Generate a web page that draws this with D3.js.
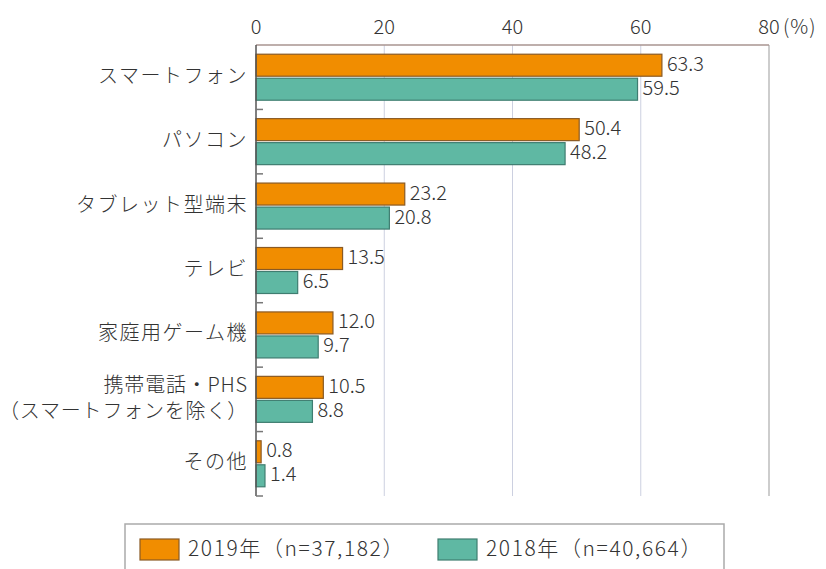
<!DOCTYPE html>
<meta charset="utf-8">
<script src="https://cdn.jsdelivr.net/npm/d3@7"></script>
<style>
body { margin: 0; background: #fff; }
text {
  font-family: "Noto Sans CJK JP", "Noto Sans", sans-serif;
  font-weight: 300;
  fill: #333;
}
</style>
<body>
<script>

// data
var categories = ["スマートフォン", "パソコン", "タブレット型端末", "テレビ", "家庭用ゲーム機", "携帯電話・PHS\n（スマートフォンを除く）", "その他"];
var values2019 = [63.3, 50.4, 23.2, 13.5, 12.0, 10.5, 0.8];
var values2018 = [59.5, 48.2, 20.8, 6.5, 9.7, 8.8, 1.4];
var seriesNames = ["2019年（n=37,182）", "2018年（n=40,664）"];
var xTicks = [0, 20, 40, 60, 80];

var width = 826, height = 569;
var plotLeft = 256, plotRight = 769, plotTop = 45, plotBottom = 496;

var colors = ["#f18d00", "#5fb8a3"];
var strokes = ["#8a5a24", "#3f7d70"];

var svg = d3.select("body").append("svg")
    .attr("width", width)
    .attr("height", height);

var x = d3.scaleLinear().domain([0, 80]).range([plotLeft, plotRight]);
var y = d3.scaleBand().domain(d3.range(categories.length)).range([plotTop, plotBottom]);

// gridlines
svg.append("g")
  .selectAll("line")
  .data(xTicks.slice(1, 4))
  .enter().append("line")
    .attr("x1", function(d) { return x(d); })
    .attr("x2", function(d) { return x(d); })
    .attr("y1", plotTop)
    .attr("y2", plotBottom)
    .style("stroke", "#ccd0e0")
    .style("stroke-width", 1);

// right border and top border
svg.append("line")
    .attr("x1", x(80)).attr("x2", x(80))
    .attr("y1", plotTop).attr("y2", plotBottom)
    .style("stroke", "#bdbdbd").style("stroke-width", 1.5);
svg.append("line")
    .attr("x1", plotLeft).attr("x2", x(80))
    .attr("y1", plotTop).attr("y2", plotTop)
    .style("stroke", "#a89590").style("stroke-width", 1.5);

// tick labels on top
svg.append("g")
  .selectAll("text")
  .data(xTicks)
  .enter().append("text")
    .attr("x", function(d) { return x(d); })
    .attr("y", 29)
    .attr("text-anchor", "middle")
    .attr("dominant-baseline", "middle")
    .style("font-size", "20px")
    .text(function(d) { return d; });
svg.append("text")
    .attr("x", x(80) + 14)
    .attr("y", 29)
    .attr("dominant-baseline", "middle")
    .style("font-size", "20px")
    .style("letter-spacing", "1px")
    .text("(%)");

var barH = 22;
var groups = svg.append("g")
  .selectAll("g")
  .data(categories)
  .enter().append("g")
    .attr("transform", function(d, i) { return "translate(0," + (y(i) + y.bandwidth() / 2) + ")"; });

[values2019, values2018].forEach(function(vals, s) {
  groups.append("rect")
      .attr("x", x(0))
      .attr("y", function() { return s == 0 ? -barH - 1 : 1; })
      .attr("width", function(d, i) { return x(vals[i]) - x(0); })
      .attr("height", barH)
      .style("fill", colors[s])
      .style("stroke", strokes[s])
      .style("stroke-width", 1.2);

  groups.append("text")
      .attr("x", function(d, i) { return x(vals[i]) + 5; })
      .attr("y", function() { return s == 0 ? -barH / 2 - 1 : barH / 2 + 1; })
      .attr("dominant-baseline", "middle")
      .style("font-size", "20px")
      .text(function(d, i) { return vals[i].toFixed(1); });
});

// category labels
groups.each(function(d) {
  var lines = d.split("\n");
  var t = d3.select(this).append("text")
      .attr("x", plotLeft - 8)
      .attr("text-anchor", "end")
      .style("font-size", "20px")
      .style("letter-spacing", lines.length > 1 ? "0.8px" : "1.5px");
  lines.forEach(function(l, k) {
    t.append("tspan")
        .attr("x", plotLeft - 8)
        .attr("y", (k - (lines.length - 1) / 2) * 26)
        .attr("dominant-baseline", "middle")
        .text(l);
  });
});

// left axis with inward ticks at band edges
svg.append("line")
    .attr("x1", plotLeft).attr("x2", plotLeft)
    .attr("y1", plotTop).attr("y2", plotBottom)
    .style("stroke", "#555").style("stroke-width", 1.5);
svg.append("g")
  .selectAll("line")
  .data(d3.range(categories.length))
  .enter().append("line")
    .attr("x1", plotLeft)
    .attr("x2", plotLeft + 7)
    .attr("y1", function(d) { return y(d) + y.step(); })
    .attr("y2", function(d) { return y(d) + y.step(); })
    .style("stroke", "#777").style("stroke-width", 1.5);

// legend
var legend = svg.append("g");
legend.append("rect")
    .attr("x", 125).attr("y", 524)
    .attr("width", 599).attr("height", 60)
    .style("fill", "none")
    .style("stroke", "#aaa").style("stroke-width", 1.5);
var legX = [140, 438];
seriesNames.forEach(function(name, s) {
  legend.append("rect")
      .attr("x", legX[s]).attr("y", 539)
      .attr("width", 39).attr("height", 21)
      .style("fill", colors[s])
      .style("stroke", strokes[s]).style("stroke-width", 1.2);
  legend.append("text")
      .attr("x", legX[s] + 48).attr("y", 550)
      .attr("dominant-baseline", "middle")
      .style("font-size", "21px")
      .style("letter-spacing", "1.6px")
      .text(name);
});

</script>
</body>
